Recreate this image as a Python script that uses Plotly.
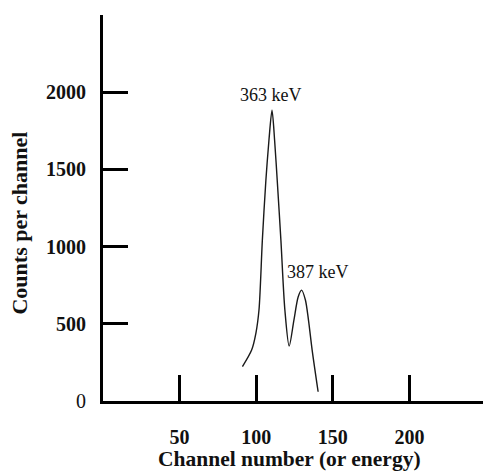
import plotly.graph_objects as go

# Spectrum trace
channel = [91.0, 97.0, 99.8, 101.8, 104.0, 106.3, 108.3, 110.3, 112.0, 113.7,
           116.1, 118.7, 121.5, 124.6, 127.4, 129.6, 132.1, 134.1, 136.5, 140.4]
counts = [223, 330, 440, 589, 1042, 1430, 1689, 1883, 1689, 1430,
          1042, 589, 356, 524, 675, 718, 654, 524, 330, 60]

x_ticks = [50, 100, 150, 200]
x_ticktext = ["<b>50</b>", "<b>100</b>", "<b>150</b>", "<b>200</b>"]
y_ticks = [0, 500, 1000, 1500, 2000]
y_ticktext = ["0", "<b>500</b>", "<b>1000</b>", "<b>1500</b>", "<b>2000</b>"]

peak_labels = ["363 keV", "387 keV"]
peak_label_x = [109.6, 140.0]
peak_label_y = [1980, 835]

FONT = "Liberation Serif"

fig = go.Figure()
fig.add_trace(go.Scatter(
    x=channel, y=counts, mode="lines",
    line=dict(color="#1a1a1a", width=1.4, shape="spline", smoothing=0.8),
    hoverinfo="skip", showlegend=False,
))

for t, xx, yy in zip(peak_labels, peak_label_x, peak_label_y):
    fig.add_annotation(x=xx, y=yy, text=t, showarrow=False,
                       xanchor="center", yanchor="middle",
                       font=dict(family=FONT, size=18, color="#111"))

fig.add_annotation(xref="paper", yref="paper", x=-0.2184, y=0.4598,
                   text="<b>Counts per channel</b>", textangle=-90,
                   showarrow=False, xanchor="center", yanchor="middle",
                   font=dict(family=FONT, size=22, color="#111"))
fig.add_annotation(xref="paper", yref="paper", x=0.492, y=-0.1503,
                   text="<b>Channel number (or energy)</b>",
                   showarrow=False, xanchor="center", yanchor="middle",
                   font=dict(family=FONT, size=21.5, color="#111"))

fig.update_xaxes(range=[0, 248], showgrid=False, zeroline=False,
                 showline=True, linecolor="black", linewidth=3,
                 ticks="inside", ticklen=26, tickwidth=2.5, tickcolor="black",
                 tickvals=x_ticks, ticktext=x_ticktext, ticklabelstandoff=16,
                 tickfont=dict(family=FONT, size=20, color="#111"))
fig.update_yaxes(range=[0, 2500], showgrid=False, zeroline=False,
                 showline=True, linecolor="black", linewidth=3,
                 ticks="inside", ticklen=25, tickwidth=2.5, tickcolor="black",
                 tickvals=y_ticks, ticktext=y_ticktext, ticklabelstandoff=10,
                 tickfont=dict(family=FONT, size=20, color="#111"))

fig.update_layout(width=483, height=476,
                  margin=dict(l=103, r=0, t=15, b=75),
                  paper_bgcolor="white", plot_bgcolor="white")

fig.write_html("out.html", config={"displayModeBar": False},
               post_script="document.body.style.margin='0';document.body.style.overflow='hidden';")
